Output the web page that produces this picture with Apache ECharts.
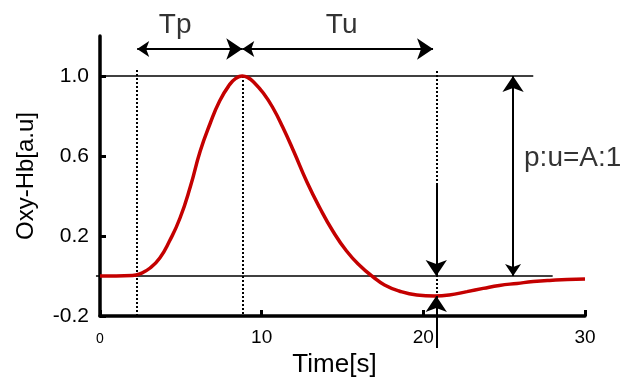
<!DOCTYPE html>
<html>
<head>
<meta charset="utf-8">
<script src="https://cdn.jsdelivr.net/npm/echarts@6/dist/echarts.min.js"></script>
<style>
  html, body { margin: 0; padding: 0; background: #fff; }
  #chart { width: 622px; height: 387px; }
</style>
</head>
<body>
<div id="chart"></div>
<script>
// Oxy-Hb response curve
const times = [0, 1.0, 2.0, 2.5, 3.1, 3.7, 4.3, 4.95, 5.6, 6.2, 6.8, 7.4, 8.0, 8.4, 8.8, 9.15, 9.5, 10.1, 10.7, 11.3, 12.0, 12.8, 13.6, 14.4, 15.25, 16.1, 16.9, 17.6, 18.5, 19.6, 20.7, 21.6, 22.7, 23.7, 24.7, 25.8, 26.8, 27.8, 28.9, 30];
const oxyHb = [0, 0, 0.002, 0.012, 0.04, 0.09, 0.175, 0.29, 0.45, 0.625, 0.76, 0.875, 0.955, 0.988, 1.0, 0.992, 0.97, 0.915, 0.84, 0.745, 0.62, 0.47, 0.34, 0.225, 0.125, 0.05, -0.005, -0.045, -0.075, -0.095, -0.1, -0.095, -0.078, -0.062, -0.047, -0.037, -0.028, -0.022, -0.018, -0.015];

const xTicks = [0, 10, 20, 30];
const yTicks = [-0.2, 0.2, 0.6, 1.0];

// annotation anchors (seconds, a.u.)
const tOnset = 2.25;
const tPeak = 8.8;
const tUnder = 20.8;
const underMin = -0.1;
const tRatio = 25.55;
const arrowY = 1.135;

const solidLines = [
  [[0, 1.0], [26.8, 1.0]],     // peak level
  [[-0.25, 0], [28.0, 0]]      // baseline
];
const dottedLines = [
  [[tOnset, 1.03], [tOnset, -0.2]],
  [[tPeak, 1.0], [tPeak, -0.2]],
  [[tUnder, 1.025], [tUnder, underMin]]
];
const doubleArrows = [
  [[tOnset + 0.05, arrowY], [tPeak, arrowY]],   // Tp
  [[tPeak, arrowY], [20.6, arrowY]],            // Tu
  [[tRatio, 0], [tRatio, 1.0]]                  // p:u
];
const singleArrows = [
  [[tUnder, 0.46], [tUnder, 0]],
  [[tUnder, -0.36], [tUnder, underMin]]
];
const notes = [
  ['Tp', 4.65, 1.255, 'center'],
  ['Tu', 14.95, 1.255, 'center'],
  ['p:u=A:1', 26.23, 0.59, 'left']
];

// layout of the plot area
const X_RANGE = [0, 30], Y_RANGE = [-0.2, 1.2];
const G = { left: 100, top: 36, width: 485, height: 280 };
const pxX = G.width / (X_RANGE[1] - X_RANGE[0]);
const pxY = G.height / (Y_RANGE[1] - Y_RANGE[0]);
// overlay grid with the same scale, covering the whole canvas
const X2 = [-4, 32], Y2 = [-0.5, 1.4];
const G2 = {
  left: G.left + (X2[0] - X_RANGE[0]) * pxX,
  top: G.top - (Y2[1] - Y_RANGE[1]) * pxY,
  width: (X2[1] - X2[0]) * pxX,
  height: (Y2[1] - Y2[0]) * pxY
};

const FONT = 'Liberation Sans';
const toLines = segs => segs.map(s => ({ coords: s }));

const chart = echarts.init(document.getElementById('chart'));
chart.setOption({
  animation: false,
  backgroundColor: '#fff',
  textStyle: { fontFamily: FONT },
  grid: [
    Object.assign({ outerBoundsMode: 'none', containLabel: false }, G),
    Object.assign({ outerBoundsMode: 'none', containLabel: false }, G2)
  ],
  xAxis: [
    {
      gridIndex: 0, type: 'value', min: X_RANGE[0], max: X_RANGE[1], interval: 10,
      name: 'Time[s]', nameLocation: 'middle', nameGap: 36,
      nameTextStyle: { fontSize: 26, color: '#000', padding: [0, 16, 0, 0] },
      axisLine: { onZero: false, lineStyle: { color: '#000', width: 3.5 } },
      axisTick: { inside: true, length: 6, customValues: xTicks, lineStyle: { color: '#000', width: 3 } },
      axisLabel: {
        margin: 12, color: '#000', fontSize: 19,
        formatter: v => (v === 0 ? '{s|0}' : String(v)),
        rich: { s: { fontSize: 14, color: '#000', padding: [4, 0, 0, 0] } }
      },
      splitLine: { show: false }
    },
    { gridIndex: 1, type: 'value', min: X2[0], max: X2[1], show: false }
  ],
  yAxis: [
    {
      gridIndex: 0, type: 'value', min: Y_RANGE[0], max: Y_RANGE[1],
      name: 'Oxy-Hb[a.u]', nameLocation: 'middle', nameGap: 62, nameRotate: 90,
      nameTextStyle: { fontSize: 24, color: '#000' },
      axisLine: { onZero: false, lineStyle: { color: '#000', width: 3.5 } },
      axisTick: { inside: true, length: 6, customValues: yTicks, lineStyle: { color: '#000', width: 3 } },
      axisLabel: {
        margin: 11, color: '#000', fontSize: 21, customValues: yTicks,
        formatter: v => v.toFixed(1)
      },
      splitLine: { show: false }
    },
    { gridIndex: 1, type: 'value', min: Y2[0], max: Y2[1], show: false }
  ],
  series: [
    {
      type: 'lines', coordinateSystem: 'cartesian2d', xAxisIndex: 1, yAxisIndex: 1,
      data: toLines(solidLines), symbol: 'none',
      lineStyle: { color: '#000', width: 1.6, opacity: 1 }, z: 2
    },
    {
      type: 'lines', coordinateSystem: 'cartesian2d', xAxisIndex: 1, yAxisIndex: 1,
      data: toLines(dottedLines), symbol: 'none',
      lineStyle: { color: '#000', width: 2, type: [2, 2], opacity: 1 }, z: 2
    },
    {
      type: 'line', xAxisIndex: 0, yAxisIndex: 0,
      data: times.map((t, i) => [t, oxyHb[i]]),
      showSymbol: false, symbol: 'none', smooth: 0.5,
      lineStyle: { color: '#c40000', width: 3.5 }, z: 3
    },
    {
      type: 'lines', coordinateSystem: 'cartesian2d', xAxisIndex: 1, yAxisIndex: 1,
      data: toLines(doubleArrows), symbol: ['arrow', 'arrow'], symbolSize: [12, 16],
      lineStyle: { color: '#000', width: 2, opacity: 1 }, z: 4
    },
    {
      type: 'lines', coordinateSystem: 'cartesian2d', xAxisIndex: 1, yAxisIndex: 1,
      data: toLines(singleArrows), symbol: ['none', 'arrow'], symbolSize: [12, 16],
      lineStyle: { color: '#000', width: 2, opacity: 1 }, z: 4
    },
    {
      type: 'scatter', xAxisIndex: 1, yAxisIndex: 1, symbolSize: 0,
      data: notes.map(n => ({
        value: [n[1], n[2]],
        label: { formatter: n[0], align: n[3] }
      })),
      label: { show: true, position: 'inside', color: '#000', fontSize: 28, fontFamily: FONT },
      z: 5
    }
  ]
});
</script>
</body>
</html>
